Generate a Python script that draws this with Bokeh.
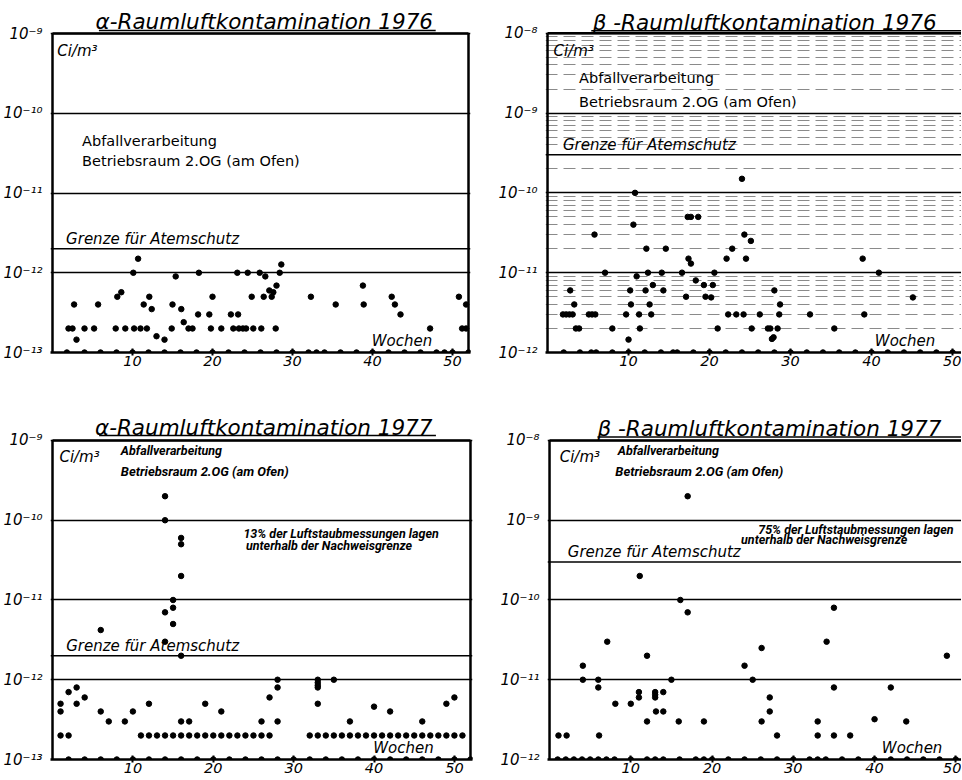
from bokeh.plotting import figure
from bokeh.models import FixedTicker, Span, Label, Range1d
from bokeh.layouts import column, row
from bokeh.embed import file_html
from bokeh.resources import INLINE

# ---------------- data ----------------
weeks_ticks = [10, 20, 30, 40, 50]
week_start, week_end = 0, 52

# alpha 1976 (Ci/m3)
a76_weeks = [2.0, 2.5, 2.7, 3.0, 4.0, 5.2, 5.7, 7.9, 8.1, 8.6, 9.1, 10.1, 10.2, 10.7, 11.0, 11.4,
             11.8, 12.1, 12.4, 13.0, 14.0, 14.9, 15.0, 15.4, 16.1, 16.4, 17.0, 17.5, 18.2, 18.3,
             19.6, 19.8, 20.0, 21.1, 22.3, 22.6, 23.1, 23.2, 23.3, 23.8, 24.2, 24.4, 24.9, 25.1,
             25.9, 26.1, 26.4, 26.6, 27.1, 27.4, 27.6, 27.9, 28.0, 28.4, 28.6, 32.3, 35.4, 38.8,
             38.9, 42.4, 42.8, 43.5, 47.2, 50.8, 51.2, 51.7, 51.7]
a76_vals = [2e-13, 2e-13, 4e-13, 1.45e-13, 2e-13, 2e-13, 4e-13, 2e-13, 5e-13, 5.7e-13, 2e-13, 1e-12,
            2e-13, 1.5e-12, 2e-13, 4e-13, 2e-13, 5e-13, 3.5e-13, 1.6e-13, 1.45e-13, 2e-13, 4e-13,
            9e-13, 3.5e-13, 2.4e-13, 2e-13, 2e-13, 3e-13, 1e-12, 3e-13, 2e-13, 5e-13, 2e-13, 3e-13,
            2e-13, 1e-12, 3e-13, 2e-13, 2e-13, 2e-13, 1e-12, 5e-13, 2e-13, 1e-12, 2e-13, 5e-13,
            9e-13, 6e-13, 5e-13, 5.7e-13, 2e-13, 6.9e-13, 1e-12, 1.27e-12, 5e-13, 4e-13, 6.9e-13,
            4e-13, 5e-13, 4e-13, 3e-13, 2e-13, 5e-13, 2e-13, 4e-13, 2e-13]
a76_nd_weeks = [1.8, 4, 6, 8, 10, 12, 14, 16, 18, 20, 22, 24, 26, 28, 30, 32, 33, 34, 36, 38, 40,
                42, 44, 46, 48, 49, 50, 52]

# beta 1976 (Ci/m3)
b76_weeks = [1.9, 2.3, 2.7, 3.1, 2.8, 3.3, 3.5, 3.9, 5.1, 5.5, 5.9, 5.8, 7.1, 8.0, 9.7, 10.0, 10.2,
             10.3, 10.6, 10.8, 11.0, 11.3, 11.4, 12.1, 12.2, 12.4, 12.6, 12.8, 13.0, 14.1, 14.3,
             14.6, 16.6, 17.1, 17.3, 17.7, 17.4, 17.7, 18.3, 18.6, 19.3, 19.5, 20.2, 20.4, 20.6,
             21.0, 22.1, 22.3, 22.8, 23.3, 24.0, 24.2, 24.3, 24.5, 25.1, 25.2, 26.2, 27.2, 27.5,
             27.7, 27.9, 28.0, 28.4, 28.6, 28.7, 32.4, 35.4, 38.9, 39.1, 40.9, 45.1]
b76_vals = [3e-12, 3e-12, 3e-12, 3e-12, 6e-12, 4e-12, 2e-12, 2e-12, 3e-12, 3e-12, 3e-12, 3e-11,
            1e-11, 2e-12, 3e-12, 1.45e-12, 6e-12, 4e-12, 4e-11, 1e-10, 9e-12, 3e-12, 2e-12, 6e-12,
            2e-11, 1e-11, 4e-12, 3e-12, 7e-12, 1e-11, 6e-12, 2e-11, 1e-11, 5e-12, 5e-11, 5e-11,
            1.5e-11, 1.3e-11, 8e-12, 5e-11, 7e-12, 5e-12, 4.9e-12, 7e-12, 1e-11, 2e-12, 1.5e-11,
            3e-12, 2e-11, 3e-12, 1.5e-10, 3e-12, 3e-11, 1.5e-11, 2.5e-11, 2e-12, 3e-12, 2e-12,
            2e-12, 1.48e-12, 1.55e-12, 6e-12, 2e-12, 3e-12, 4e-12, 3e-12, 2e-12, 1.5e-11, 3e-12,
            1e-11, 4.9e-12]
b76_nd_weeks = [2, 4, 5.4, 6, 8, 10, 12, 14, 15.5, 16, 18, 20, 22, 24, 26, 28, 30, 32, 34, 36, 38,
                40, 42, 44, 46, 48, 50]

# alpha 1977 (Ci/m3)
a77_weeks = [1, 1, 1, 2, 2, 3, 3, 4, 6, 6, 7, 9, 10, 11, 12, 12, 13, 14, 14, 14, 14, 14, 15, 15,
             15, 15, 16, 16, 16, 16, 16, 16, 17, 17, 18, 19, 19, 20, 21, 21, 22, 23, 24, 25, 26, 26,
             27, 27, 28, 28, 28, 32, 33, 33, 33, 33, 33, 33, 34, 35, 35, 36, 37, 37, 38, 39, 40, 40,
             41, 42, 42, 43, 44, 45, 46, 46, 47, 48, 49, 49, 50, 50, 51]
a77_vals = [5e-13, 4e-13, 2e-13, 7e-13, 2e-13, 8e-13, 5e-13, 6e-13, 4.2e-12, 4e-13, 3e-13, 3e-13,
            4e-13, 2e-13, 5e-13, 2e-13, 2e-13, 2e-10, 1e-10, 7e-12, 3e-12, 2e-13, 1e-11, 8e-12,
            5e-12, 2e-13, 6e-11, 5e-11, 2e-11, 2e-12, 3e-13, 2e-13, 3e-13, 2e-13, 2e-13, 5e-13,
            2e-13, 2e-13, 4e-13, 2e-13, 2e-13, 2e-13, 2e-13, 2e-13, 3e-13, 2e-13, 6e-13, 2e-13,
            1e-12, 8e-13, 3e-13, 2e-13, 1e-12, 9.2e-13, 8.5e-13, 8e-13, 5e-13, 2e-13, 2e-13, 1e-12,
            2e-13, 2e-13, 3e-13, 2e-13, 2e-13, 2e-13, 4.6e-13, 2e-13, 2e-13, 4e-13, 2e-13, 2e-13,
            2e-13, 2e-13, 3e-13, 2e-13, 2e-13, 2e-13, 5e-13, 2e-13, 6e-13, 2e-13, 2e-13]
a77_nd_weeks = [2, 4, 6, 8, 10, 12, 14, 16, 18, 20, 22, 24, 26, 28, 30, 32, 34, 36, 38, 40, 42, 44,
                46, 48, 50, 52]

# beta 1977 (Ci/m3)
b77_weeks = [1.1, 2.1, 4.1, 4.1, 6, 6, 6.1, 7.1, 8.1, 10, 11, 11, 11.1, 12, 12, 13, 13, 13, 13.1,
             14, 14, 15, 15.9, 16.1, 17, 17, 19, 24, 25, 26.1, 26.1, 27.1, 27.1, 28, 33, 33, 34.1,
             35, 35, 35, 37, 40, 42, 43.9, 48.9]
b77_vals = [2e-12, 2e-12, 1.5e-11, 1e-11, 1e-11, 8e-12, 2e-12, 3e-11, 5e-12, 5e-12, 7e-12, 6e-12,
            2e-10, 2e-11, 3e-12, 7e-12, 6.5e-12, 6e-12, 4e-12, 7e-12, 4e-12, 1e-11, 3e-12, 1e-10,
            2e-9, 7e-11, 3e-12, 1.5e-11, 1e-11, 2.5e-11, 3e-12, 6e-12, 4e-12, 2e-12, 3e-12, 2e-12,
            3e-11, 8e-11, 8e-12, 2e-12, 2e-12, 3.2e-12, 8e-12, 3e-12, 2e-11]
b77_nd_weeks = [1, 2, 3, 4, 5, 6, 7, 8, 10, 12, 13, 14, 16, 18, 19, 20, 22, 24, 26, 28, 30, 32, 33,
                34, 36, 38, 40, 42, 44, 46, 48, 50]

alpha_floor = 1e-13
beta_floor = 1e-12
alpha_limit = 2e-12   # Grenze fuer Atemschutz
beta_limit = 3e-10

# ---------------- styling helpers ----------------
FONT = "DejaVu Sans"
SMALL = "Roboto"
SUP = str.maketrans("0123456789-", "⁰¹²³⁴⁵⁶⁷⁸⁹⁻")
LIFT = 10 ** (6 / 80)   # text baseline correction (about 6 px)


def exp_label(e):
    return "10" + str(e).translate(SUP)


def make_panel(width, height, borders, x_range, lo, hi, top_exp, right_edge, minor_dash=False):
    p = figure(width=width, height=height, y_axis_type="log",
               x_range=Range1d(*x_range), y_range=Range1d(10.0 ** lo, 10.0 ** top_exp),
               output_backend="svg", toolbar_location=None,
               min_border_left=borders[0], min_border_right=borders[1],
               min_border_top=borders[2], min_border_bottom=borders[3],
               background_fill_color="white", border_fill_color="white")
    exps = list(range(lo, hi + 1))
    ticks = [10.0 ** e for e in exps]
    minors = [m * 10.0 ** e for e in exps[:-1] for m in range(2, 10)]
    yt = FixedTicker(ticks=ticks, minor_ticks=minors)
    p.yaxis.ticker = yt
    p.ygrid.ticker = yt
    p.yaxis.major_label_overrides = {t: exp_label(e) for t, e in zip(ticks, exps)}
    p.yaxis.major_label_text_font = FONT
    p.yaxis.major_label_text_font_style = "italic"
    p.yaxis.major_label_text_font_size = "15px"
    p.yaxis.major_label_text_color = "black"
    p.yaxis.major_label_standoff = 2
    p.yaxis.major_tick_line_color = None
    p.yaxis.minor_tick_line_color = None
    p.yaxis.axis_line_color = None

    xt = FixedTicker(ticks=weeks_ticks, minor_ticks=[])
    p.xaxis.ticker = xt
    p.xaxis.major_label_text_font = FONT
    p.xaxis.major_label_text_font_style = "italic"
    p.xaxis.major_label_text_font_size = "14.5px"
    p.xaxis.major_label_text_color = "black"
    p.xaxis.major_label_standoff = 0
    p.xaxis.major_tick_in = 4
    p.xaxis.major_tick_out = 3
    p.xaxis.major_tick_line_width = 2
    p.xaxis.minor_tick_line_color = None
    p.xaxis.axis_line_width = 2.5
    p.xaxis.axis_line_color = "black"

    p.xgrid.visible = False
    p.ygrid.grid_line_color = "black"
    p.ygrid.grid_line_width = 1.3
    p.ygrid.grid_line_alpha = 1.0
    if minor_dash:
        p.ygrid.minor_grid_line_color = "#8a8a8a"
        p.ygrid.minor_grid_line_dash = "12 6"
        p.ygrid.minor_grid_line_width = 1
    p.outline_line_color = None

    # box of the diagram: left edge, top edge and (if visible) right edge
    floor, top = 10.0 ** lo, 10.0 ** hi
    xs0 = [week_start, week_start]
    ys0 = [floor, top]
    xs1 = [week_start, right_edge]
    ys1 = [top, top]
    if right_edge == week_end:
        xs0.append(week_end); ys0.append(floor); xs1.append(week_end); ys1.append(top)
    p.segment(x0=xs0, y0=ys0, x1=xs1, y1=ys1, line_color="black", line_width=2.5)
    return p


def lab(p, x, y, text, size, font=FONT, style="italic", align="left"):
    p.add_layout(Label(x=x, y=y * LIFT, text=text, text_font=font, text_font_size=size,
                       text_font_style=style, text_align=align, text_baseline="alphabetic",
                       text_color="black"))


def title(p, xc, y_base, y_line, x0, x1, text):
    lab(p, xc, y_base, text, "21.5px", align="center")
    p.segment(x0=[x0], y0=[y_line], x1=[x1], y1=[y_line], line_color="black", line_width=1.5)


def points(p, xs, ys):
    p.scatter(x=xs, y=ys, size=5.5, color="black")


def limit_line(p, v):
    p.add_layout(Span(location=v, dimension="width", line_color="black", line_width=1.5))


# ---------------- panel 1: alpha 1976 ----------------
p1 = make_panel(481, 390, (46, 11, 4, 38), (-0.25, 52.25), -13, -9, -8.636, week_end)
limit_line(p1, alpha_limit)
points(p1, a76_weeks, a76_vals)
points(p1, a76_nd_weeks, [alpha_floor] * len(a76_nd_weeks))
title(p1, 26.9, 10 ** -8.93, 10 ** -8.963, 5.8, 47.9, "α-Raumluftkontamination  1976")
lab(p1, 0.6, 10 ** -9.30, "Ci/m³", "15px")
lab(p1, 3.7, 10 ** -10.42, "Abfallverarbeitung", "14.5px", style="normal")
lab(p1, 3.7, 10 ** -10.67, "Betriebsraum  2.OG (am Ofen)", "14.5px", style="normal")
lab(p1, 1.7, alpha_limit * 10 ** 0.05, "Grenze für Atemschutz", "15px")
lab(p1, 39.9, alpha_floor * 10 ** 0.065, "Wochen", "15px")

# ---------------- panel 2: beta 1976 ----------------
p2 = make_panel(480, 390, (64, 0, 4, 35), (-0.25, 51.1), -12, -8, -7.64, 51.1, minor_dash=True)
limit_line(p2, beta_limit)
points(p2, b76_weeks, b76_vals)
points(p2, b76_nd_weeks, [beta_floor] * len(b76_nd_weeks))
title(p2, 27.65, 10 ** -7.937, 10 ** -7.969, 5.4, 51.1, "β -Raumluftkontamination   1976")
lab(p2, 0.75, 10 ** -8.30, "Ci/m³", "15px")
lab(p2, 3.9, 10 ** -8.63, "Abfallverarbeitung", "14.5px", style="normal")
lab(p2, 3.9, 10 ** -8.94, "Betriebsraum  2.OG (am Ofen)", "14.5px", style="normal")
lab(p2, 1.9, beta_limit * 10 ** 0.05, "Grenze für Atemschutz", "15px")
lab(p2, 40.4, beta_floor * 10 ** 0.065, "Wochen", "15px")

# ---------------- panel 3: alpha 1977 ----------------
p3 = make_panel(481, 389, (46, 9, 20, 20), (-0.25, 52.25), -13, -9, -8.624, week_end)
limit_line(p3, alpha_limit)
points(p3, a77_weeks, a77_vals)
points(p3, a77_nd_weeks, [alpha_floor] * len(a77_nd_weeks))
title(p3, 26.7, 10 ** -8.912, 10 ** -8.937, 5.8, 47.7, "α-Raumluftkontamination  1977")
lab(p3, 0.86, 10 ** -9.28, "Ci/m³", "15px")
lab(p3, 8.5, 10 ** -9.20, "Abfallverarbeitung", "12.5px", font=SMALL, style="bold italic")
lab(p3, 8.5, 10 ** -9.46, "Betriebsraum  2.OG  (am Ofen)", "13px", font=SMALL, style="bold italic")
lab(p3, 35.9, 10 ** -10.24, "13% der Luftstaubmessungen lagen", "12.5px", font=SMALL,
    style="bold italic", align="center")
lab(p3, 34.4, 10 ** -10.39, "unterhalb der Nachweisgrenze", "12.5px", font=SMALL,
    style="bold italic", align="center")
lab(p3, 1.7, alpha_limit * 10 ** 0.05, "Grenze für Atemschutz", "15px")
lab(p3, 39.9, alpha_floor * 10 ** 0.075, "Wochen", "15px")

# ---------------- panel 4: beta 1977 ----------------
p4 = make_panel(480, 389, (66, 0, 20, 20), (-0.25, 50.7), -12, -8, -7.624, 50.7)
limit_line(p4, beta_limit)
points(p4, b77_weeks, b77_vals)
points(p4, b77_nd_weeks, [beta_floor] * len(b77_nd_weeks))
title(p4, 27.9, 10 ** -7.925, 10 ** -7.956, 5.9, 50.7, "β -Raumluftkontamination   1977")
lab(p4, 1.25, 10 ** -8.28, "Ci/m³", "15px")
lab(p4, 8.4, 10 ** -8.20, "Abfallverarbeitung", "12.5px", font=SMALL, style="bold italic")
lab(p4, 8.1, 10 ** -8.46, "Betriebsraum  2.OG  (am Ofen)", "13px", font=SMALL, style="bold italic")
lab(p4, 37.7, 10 ** -9.19, "75% der Luftstaubmessungen lagen", "12.5px", font=SMALL,
    style="bold italic", align="center")
lab(p4, 33.8, 10 ** -9.32, "unterhalb der Nachweisgrenze", "12.5px", font=SMALL,
    style="bold italic", align="center")
lab(p4, 2.25, beta_limit * 10 ** 0.05, "Grenze für Atemschutz", "15px")
lab(p4, 40.9, beta_floor * 10 ** 0.075, "Wochen", "15px")

layout = column(row(p1, p2), row(p3, p4))
open("out.html", "w").write(file_html(layout, INLINE))
